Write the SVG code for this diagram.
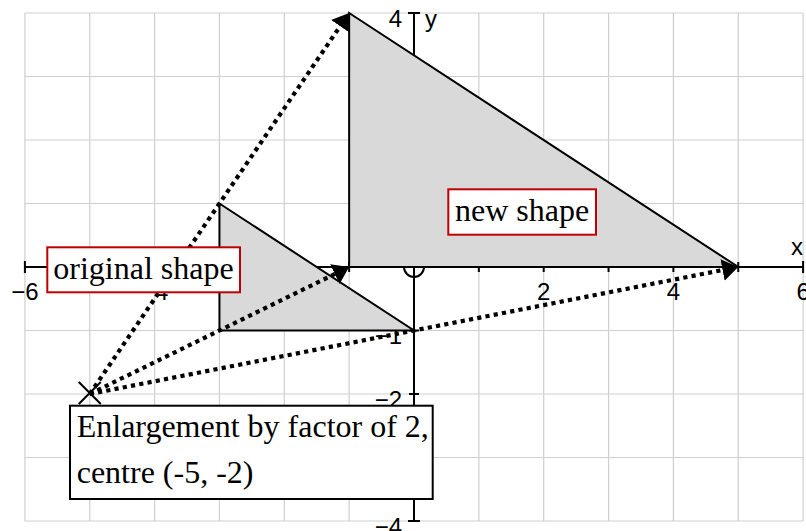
<svg xmlns="http://www.w3.org/2000/svg" width="806" height="531" viewBox="0 0 806 531">
<defs>
<style>
.grid line{stroke:#cfcfcf;stroke-width:1.2}
.axis{stroke:#000;stroke-width:2;fill:none}
.ax{font-family:"Liberation Sans",Arial,sans-serif;font-size:24px;fill:#000}
.shape{fill:#d9d9d9;stroke:#000;stroke-width:2;stroke-linejoin:miter}
.dot{stroke:#000;stroke-width:4.2;stroke-dasharray:4.2 4.2;fill:none}
.lbl{font-family:"Liberation Serif","Times New Roman",serif;font-size:32px;fill:#000}
.rbox{fill:#fff;stroke:#c00000;stroke-width:2}
.kbox{fill:#fff;stroke:#000;stroke-width:2}
</style>
<marker id="arr" markerUnits="userSpaceOnUse" markerWidth="16" markerHeight="22" viewBox="0 0 16 22" refX="8" refY="11" orient="auto">
<path d="M0,0 L16,11 L0,22 Z" fill="#000"/>
</marker>
</defs>
<rect width="806" height="531" fill="#fff"/>
<g id="grid" class="grid">
<line x1="24.9" y1="13" x2="24.9" y2="521"/>
<line x1="89.75" y1="13" x2="89.75" y2="521"/>
<line x1="154.6" y1="13" x2="154.6" y2="521"/>
<line x1="219.45" y1="13" x2="219.45" y2="521"/>
<line x1="284.3" y1="13" x2="284.3" y2="521"/>
<line x1="349.15" y1="13" x2="349.15" y2="521"/>
<line x1="414" y1="13" x2="414" y2="521"/>
<line x1="478.85" y1="13" x2="478.85" y2="521"/>
<line x1="543.7" y1="13" x2="543.7" y2="521"/>
<line x1="608.55" y1="13" x2="608.55" y2="521"/>
<line x1="673.4" y1="13" x2="673.4" y2="521"/>
<line x1="738.25" y1="13" x2="738.25" y2="521"/>
<line x1="803.1" y1="13" x2="803.1" y2="521"/>
<line x1="24.9" y1="13" x2="803.1" y2="13"/>
<line x1="24.9" y1="76.5" x2="803.1" y2="76.5"/>
<line x1="24.9" y1="140" x2="803.1" y2="140"/>
<line x1="24.9" y1="203.5" x2="803.1" y2="203.5"/>
<line x1="24.9" y1="267" x2="803.1" y2="267"/>
<line x1="24.9" y1="330.5" x2="803.1" y2="330.5"/>
<line x1="24.9" y1="394" x2="803.1" y2="394"/>
<line x1="24.9" y1="457.5" x2="803.1" y2="457.5"/>
<line x1="24.9" y1="521" x2="803.1" y2="521"/>
</g>
<g id="axes">
<path class="axis" d="M24.9,267 H803.1 M414,13 V521
M24.9,261 V273 M89.75,262 V272 M154.6,262 V272 M219.45,262 V272 M284.3,262 V272 M349.15,262 V272 M478.85,262 V272 M543.7,262 V272 M608.55,262 V272 M673.4,262 V272 M738.25,262 V272 M803.1,261 V273
M408,13 H420 M409,76.5 H419 M409,140 H419 M409,203.5 H419 M409,330.5 H419 M409,394 H419 M409,457.5 H419 M408,521 H420"/>
<circle class="axis" cx="414" cy="267" r="10"/>
<g class="ax" text-anchor="middle">
<text x="24.9" y="300">−6</text>
<text x="154.6" y="300">−4</text>
<text x="543.7" y="300">2</text>
<text x="673.4" y="300">4</text>
<text x="803.1" y="300">6</text>
</g>
<g class="ax" text-anchor="end">
<text x="402" y="27">4</text>
<text x="402" y="344">−1</text>
<text x="402" y="408">−2</text>
<text x="402" y="535">−4</text>
</g>
<text class="ax" x="425" y="27">y</text>
<text class="ax" x="791" y="255">x</text>
</g>
<g id="original-shape">
<polygon class="shape" points="219.45,203.5 219.45,330.5 414,330.5"/>
</g>
<g id="new-shape">
<polygon class="shape" points="349.15,13 349.15,267 738.25,267"/>
</g>
<g id="connectors">
<line class="dot" x1="89.75" y1="394" x2="344.65" y2="19.61" marker-end="url(#arr)"/>
<line class="dot" x1="89.75" y1="394" x2="341.96" y2="270.52" marker-end="url(#arr)"/>
<line class="dot" x1="89.75" y1="394" x2="730.4" y2="268.54" marker-end="url(#arr)"/>
</g>
<g id="centre">
<path d="M78.75,382 L100.75,404 M100.75,382 L78.75,404" stroke="#000" stroke-width="2" fill="none"/>
</g>
<g id="label-original">
<rect class="rbox" x="47.3" y="247.3" width="192.7" height="45"/>
<text class="lbl" x="53.3" y="279.3">original shape</text>
</g>
<g id="label-new">
<rect class="rbox" x="448.3" y="189.3" width="147.7" height="45.4"/>
<text class="lbl" x="455" y="220.7">new shape</text>
</g>
<g id="label-enlargement">
<rect class="kbox" x="70" y="405.7" width="362.7" height="93.3"/>
<text class="lbl" x="76.7" y="436.7">Enlargement by factor of 2,</text>
<text class="lbl" x="76.7" y="483.3">centre (-5, -2)</text>
</g>
</svg>
